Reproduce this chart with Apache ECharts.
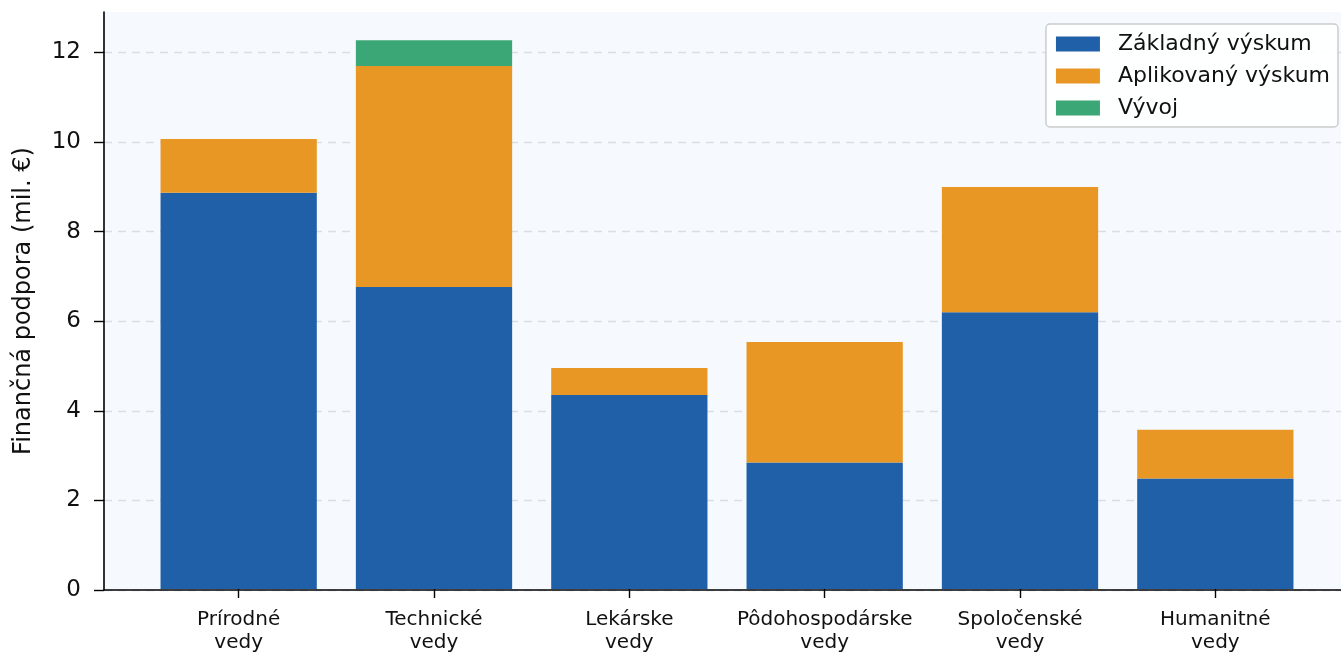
<!DOCTYPE html>
<html><head><meta charset="utf-8">
<script src="https://cdn.jsdelivr.net/npm/echarts@6/dist/echarts.min.js"></script>
<style>html,body{margin:0;padding:0;background:#fff}#c{width:1341px;height:654px}</style>
</head><body><div id="c"></div>
<script>
const categories = ['Prírodné\nvedy','Technické\nvedy','Lekárske\nvedy','Pôdohospodárske\nvedy','Spoločenské\nvedy','Humanitné\nvedy'];
const seriesNames = ['Základný výskum','Aplikovaný výskum','Vývoj'];
const zakladny = [8.86, 6.75, 4.34, 2.83, 6.19, 2.47];
const aplikovany = [1.20, 4.94, 0.60, 2.69, 2.80, 1.09];
const vyvoj = [0, 0.58, 0, 0, 0, 0];
const yTicks = [0, 2, 4, 6, 8, 10, 12];
const colors = ['#2060a8', '#e89624', '#3ba676'];

const font = 'DejaVu Sans';
const YMAX = 12.9;
function mk(name, vals, color) {
  return {
    name, type: 'bar', stack: 'total', barWidth: '80%',
    xAxisIndex: 1, yAxisIndex: 1,
    data: vals, itemStyle: { color }
  };
}
const chart = echarts.init(document.getElementById('c'), null, { renderer: 'canvas' });
chart.setOption({
  animation: false,
  textStyle: { fontFamily: font },
  grid: [
    { left: 104, right: 0, top: 12, bottom: 64, show: true, backgroundColor: '#f6f9fe', borderWidth: 0 },
    { left: 141, right: 28, top: 12, bottom: 64 }
  ],
  legend: {
    orient: 'vertical', right: 3, top: 24,
    icon: 'rect', itemWidth: 44, itemHeight: 15, itemGap: 10,
    padding: [9, 8, 8, 10],
    backgroundColor: 'rgba(255,255,255,0.9)', borderColor: '#cccccc', borderWidth: 1.5, borderRadius: 4,
    textStyle: { fontSize: 22, color: '#111', fontFamily: font, padding: [0, 0, 0, 13] },
    data: seriesNames
  },
  xAxis: [
    {
      gridIndex: 0, type: 'value', min: 0, max: 1,
      splitLine: { show: false }, axisTick: { show: false }, axisLabel: { show: false },
      axisLine: { show: true, onZero: false, lineStyle: { color: '#000', width: 1.6 } }
    },
    {
      gridIndex: 1, type: 'category', data: categories,
      axisLine: { show: false },
      axisTick: { show: true, interval: 0, alignWithLabel: true, length: 9, lineStyle: { color: '#000', width: 1.4 } },
      axisLabel: { interval: 0, margin: 19, fontSize: 20, lineHeight: 23, color: '#111', fontFamily: font }
    }
  ],
  yAxis: [
    {
      gridIndex: 0, type: 'value', min: 0, max: YMAX,
      name: 'Finančná podpora (mil. €)', nameLocation: 'middle', nameGap: 68,
      nameTextStyle: { fontSize: 24, color: '#111', fontFamily: font },
      axisLine: { show: true, onZero: false, lineStyle: { color: '#000', width: 1.6 } },
      axisTick: { show: true, customValues: yTicks, length: 10, lineStyle: { color: '#000', width: 1.4 } },
      axisLabel: { customValues: yTicks, margin: 23, fontSize: 23, color: '#111', fontFamily: font },
      splitLine: { show: true, lineStyle: { color: '#d9dee4', type: [8, 6], width: 1.4 } }
    },
    {
      gridIndex: 1, type: 'value', min: 0, max: YMAX,
      show: false, splitLine: { show: false }
    }
  ],
  series: [
    mk(seriesNames[0], zakladny, colors[0]),
    mk(seriesNames[1], aplikovany, colors[1]),
    mk(seriesNames[2], vyvoj, colors[2])
  ]
});
</script></body></html>
